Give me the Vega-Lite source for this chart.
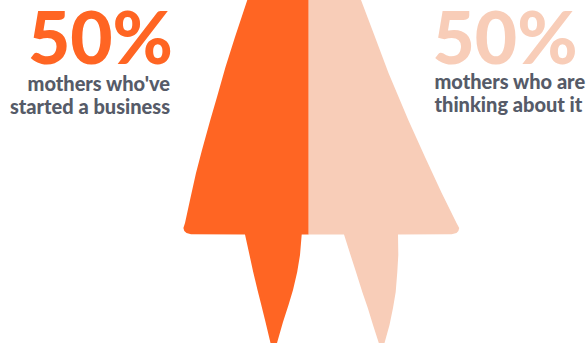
{
  "$schema": "https://vega.github.io/schema/vega-lite/v6.json",
  "width": 587,
  "height": 343,
  "autosize": {"type": "fit", "contains": "padding"},
  "padding": 0,
  "background": "#ffffff",
  "view": {"stroke": null},
  "datasets": {
    "figure": [
      {"part": "started", "h": 0, "a": 247.3, "b": 308.7},
      {"part": "started", "h": 37, "a": 235, "b": 308.7},
      {"part": "started", "h": 67, "a": 225.5, "b": 308.7},
      {"part": "started", "h": 97, "a": 217, "b": 308.7},
      {"part": "started", "h": 120, "a": 210.3, "b": 308.7},
      {"part": "started", "h": 150, "a": 202, "b": 308.7},
      {"part": "started", "h": 173, "a": 196, "b": 308.7},
      {"part": "started", "h": 200, "a": 190, "b": 308.7},
      {"part": "started", "h": 223, "a": 185, "b": 308.7},
      {"part": "started", "h": 228, "a": 183.4, "b": 308.7},
      {"part": "started", "h": 231, "a": 184.3, "b": 308.7},
      {"part": "started", "h": 233, "a": 186.5, "b": 308.7},
      {"part": "started", "h": 234.3, "a": 191, "b": 308.7},
      {"part": "started", "h": 234.4, "a": 245, "b": 308.7},
      {"part": "started", "h": 234.5, "a": 245, "b": 301.7},
      {"part": "started", "h": 255, "a": 249.5, "b": 300},
      {"part": "started", "h": 272, "a": 253.2, "b": 297.2},
      {"part": "started", "h": 290, "a": 257.5, "b": 293},
      {"part": "started", "h": 305, "a": 261.3, "b": 288.5},
      {"part": "started", "h": 322, "a": 265.5, "b": 283},
      {"part": "started", "h": 343, "a": 270.5, "b": 277}, 
      {"part": "thinking", "h": 0, "a": 308.7, "b": 361},
      {"part": "thinking", "h": 37, "a": 308.7, "b": 375},
      {"part": "thinking", "h": 73, "a": 308.7, "b": 388.5},
      {"part": "thinking", "h": 120, "a": 308.7, "b": 408.3},
      {"part": "thinking", "h": 157, "a": 308.7, "b": 425},
      {"part": "thinking", "h": 193, "a": 308.7, "b": 441.7},
      {"part": "thinking", "h": 223, "a": 308.7, "b": 456.5},
      {"part": "thinking", "h": 228, "a": 308.7, "b": 459.2},
      {"part": "thinking", "h": 231, "a": 308.7, "b": 458.4},
      {"part": "thinking", "h": 233, "a": 308.7, "b": 456.5},
      {"part": "thinking", "h": 234.3, "a": 308.7, "b": 451.7},
      {"part": "thinking", "h": 234.4, "a": 308.7, "b": 398},
      {"part": "thinking", "h": 234.5, "a": 344, "b": 398},
      {"part": "thinking", "h": 255, "a": 350.5, "b": 398.3},
      {"part": "thinking", "h": 272, "a": 356, "b": 397.3},
      {"part": "thinking", "h": 292, "a": 362.3, "b": 395.7},
      {"part": "thinking", "h": 308, "a": 367.8, "b": 393},
      {"part": "thinking", "h": 325, "a": 373, "b": 389.5},
      {"part": "thinking", "h": 343, "a": 378.8, "b": 384.5}
    ],
    "leftText": [
      {"label": "mothers who've", "px": 170, "py": 90.5},
      {"label": "started a business", "px": 170, "py": 113.5}
    ],
    "rightText": [
      {"label": "mothers who are", "px": 434.5, "py": 89},
      {"label": "thinking about it", "px": 434.5, "py": 112}
    ],
    "leftShare": [{"label": "50%", "px": 173, "py": 64}],
    "rightShare": [{"label": "50%", "px": 432.5, "py": 63.5}]
  },
  "layer": [
    {
      "data": {"name": "figure"},
      "mark": {"type": "area", "orient": "horizontal", "interpolate": "linear"},
      "encoding": {
        "y": {"field": "h", "type": "quantitative", "scale": {"domain": [343, 0], "nice": false}, "axis": null},
        "x": {"field": "a", "type": "quantitative", "scale": {"domain": [0, 587], "nice": false}, "axis": null},
        "x2": {"field": "b"},
        "color": {
          "field": "part",
          "type": "nominal",
          "scale": {"domain": ["started", "thinking"], "range": ["#FF6523", "#F8CDB8"]},
          "legend": null
        }
      }
    },
    {
      "data": {"name": "leftShare"},
      "mark": {"type": "text", "align": "right", "baseline": "alphabetic", "font": "Lato", "fontWeight": 900, "fontSize": 73, "color": "#FF6523"},
      "encoding": {
        "x": {"field": "px", "type": "quantitative"},
        "y": {"field": "py", "type": "quantitative"},
        "text": {"field": "label"}
      }
    },
    {
      "data": {"name": "rightShare"},
      "mark": {"type": "text", "align": "left", "baseline": "alphabetic", "font": "Lato", "fontWeight": 900, "fontSize": 73, "color": "#F8CDB8"},
      "encoding": {
        "x": {"field": "px", "type": "quantitative"},
        "y": {"field": "py", "type": "quantitative"},
        "text": {"field": "label"}
      }
    },
    {
      "data": {"name": "leftText"},
      "mark": {"type": "text", "align": "right", "baseline": "alphabetic", "font": "Lato", "fontWeight": 900, "fontSize": 20, "color": "#565B68"},
      "encoding": {
        "x": {"field": "px", "type": "quantitative"},
        "y": {"field": "py", "type": "quantitative"},
        "text": {"field": "label"}
      }
    },
    {
      "data": {"name": "rightText"},
      "mark": {"type": "text", "align": "left", "baseline": "alphabetic", "font": "Lato", "fontWeight": 900, "fontSize": 20, "color": "#565B68"},
      "encoding": {
        "x": {"field": "px", "type": "quantitative"},
        "y": {"field": "py", "type": "quantitative"},
        "text": {"field": "label"}
      }
    }
  ]
}
